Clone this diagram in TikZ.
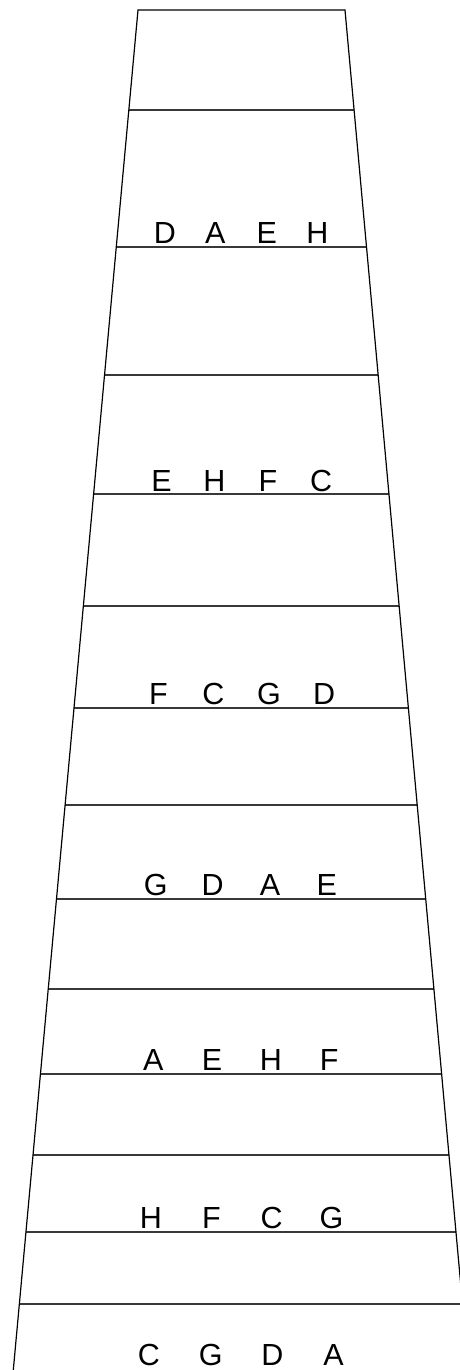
\documentclass[tikz,border=0pt]{standalone}
\usepackage{fontspec}
\setmainfont{Liberation Sans}
\usetikzlibrary{calc}
\begin{document}
\begin{tikzpicture}[x=1pt,y=-1pt,
  edge/.style={line width=1.2pt,black},
  fret/.style={line width=1.5pt,black!78},
  note/.style={anchor=base,inner sep=0pt,font=\fontsize{30.5}{36}\selectfont}]
\useasboundingbox (0,0) rectangle (460,1370);
\begin{scope}
\clip (0,0) rectangle (460,1370);
\coordinate (TL) at (138,10);
\coordinate (TR) at (345,10);
\coordinate (BL) at (13.3,1370);
\coordinate (BR) at (468.5,1370);
\foreach \y in {110,247,375,494,606,708,805,899,989,1074,1155,1232,1304} {
  \pgfmathsetmacro\t{(\y-10)/1360}
  \draw[fret] ($(TL)!\t!(BL)$) -- ($(TR)!\t!(BR)$);
}
\draw[edge,line join=miter] (BL) -- (TL) -- (TR) -- (BR);
\foreach \r/\yb/\a/\b/\c/\d in {1/243/D/A/E/H, 2/491/E/H/F/C, 3/704/F/C/G/D, 4/895/G/D/A/E, 5/1070/A/E/H/F, 6/1228/H/F/C/G, 7/1365.5/C/G/D/A} {
  \pgfmathsetmacro\xa{165-0.01426*(\yb-243)}
  \pgfmathsetmacro\xb{215.3-0.0040*(\yb-243)}
  \pgfmathsetmacro\xc{266.8+0.0050*(\yb-243)}
  \pgfmathsetmacro\xd{317.5+0.0142*(\yb-243)}
  \node[note] (n\r a) at (\xa,\yb) {\a};
  \node[note] (n\r b) at (\xb,\yb) {\b};
  \node[note] (n\r c) at (\xc,\yb) {\c};
  \node[note] (n\r d) at (\xd,\yb) {\d};
}
\end{scope}
\end{tikzpicture}
\end{document}
